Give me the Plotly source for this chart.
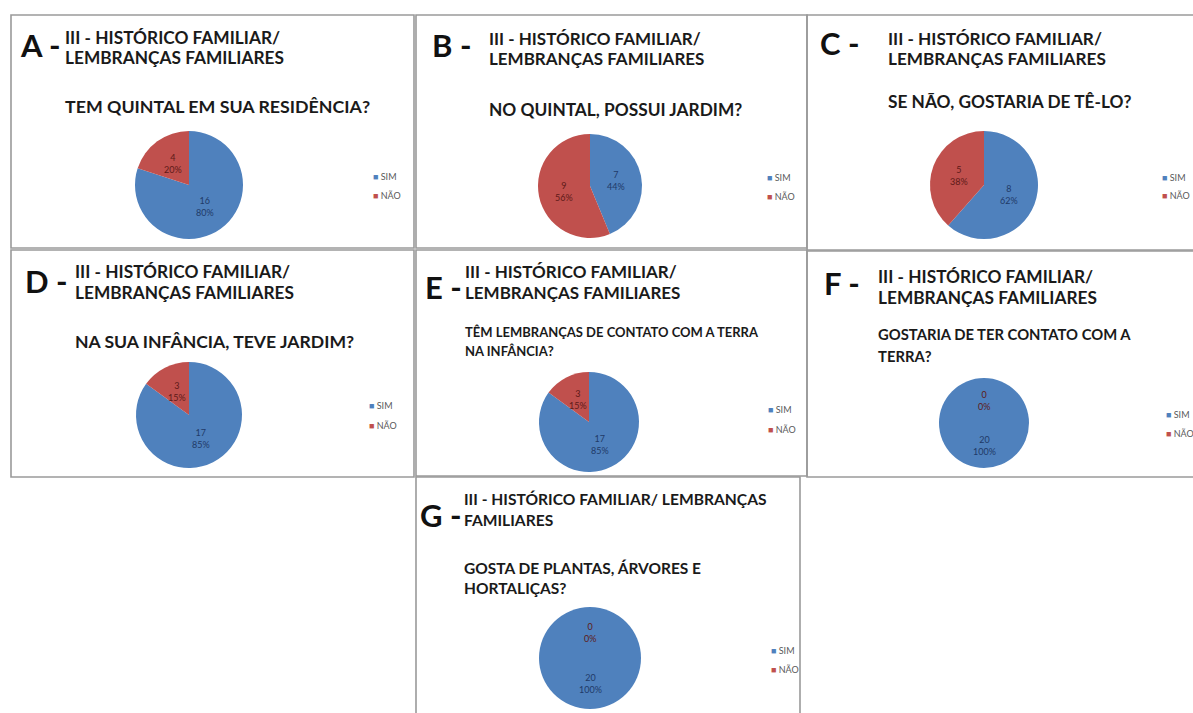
import math
import plotly.graph_objects as go

W, H = 1193, 713

# ---------------- data ----------------
panel_letters = ["A", "B", "C", "D", "E", "F", "G"]
categories = ["SIM", "NÃO"]
sim_values = [16, 7, 8, 17, 17, 20, 20]
nao_values = [4, 9, 5, 3, 3, 0, 0]
title_lines = [
    ["III - HISTÓRICO FAMILIAR/", "LEMBRANÇAS FAMILIARES"],
    ["III - HISTÓRICO FAMILIAR/", "LEMBRANÇAS FAMILIARES"],
    ["III - HISTÓRICO FAMILIAR/", "LEMBRANÇAS FAMILIARES"],
    ["III - HISTÓRICO FAMILIAR/", "LEMBRANÇAS FAMILIARES"],
    ["III - HISTÓRICO FAMILIAR/", "LEMBRANÇAS FAMILIARES"],
    ["III - HISTÓRICO FAMILIAR/", "LEMBRANÇAS FAMILIARES"],
    ["III - HISTÓRICO FAMILIAR/ LEMBRANÇAS", "FAMILIARES"],
]
question_lines = [
    ["TEM QUINTAL EM SUA RESIDÊNCIA?"],
    ["NO QUINTAL, POSSUI JARDIM?"],
    ["SE NÃO, GOSTARIA DE TÊ-LO?"],
    ["NA SUA INFÂNCIA, TEVE JARDIM?"],
    ["TÊM LEMBRANÇAS DE CONTATO COM A TERRA", "NA INFÂNCIA?"],
    ["GOSTARIA DE TER CONTATO COM A", "TERRA?"],
    ["GOSTA DE PLANTAS, ÁRVORES E", "HORTALIÇAS?"],
]

# ---------------- layout (pixels) ----------------
layout_px = [
    dict(box=(11, 15, 414, 248), letter=(18, 45), tx=63, tys=(38, 57), ts=17.3, qys=(106,), qs=17.8, pie=(189, 185, 54), leg=(371, 176, 195)),
    dict(box=(416, 15, 807, 248), letter=(430, 45), tx=487, tys=(39, 59), ts=17.0, qys=(110,), qs=17.3, pie=(590, 186, 52), leg=(765, 177, 196)),
    dict(box=(807, 15, 1200, 250), letter=(818, 43), tx=886, tys=(39, 58), ts=17.2, qys=(102,), qs=17.3, pie=(984, 185, 54), leg=(1160, 177, 195)),
    dict(box=(11, 250, 414, 477), letter=(23, 281), tx=73, tys=(271, 292), ts=17.3, qys=(342,), qs=17.6, pie=(189, 415, 53), leg=(367, 405, 425)),
    dict(box=(416, 250, 807, 476), letter=(423, 287), tx=463, tys=(271, 292), ts=17.0, qys=(332, 351), qs=13.0, pie=(589, 422, 50), leg=(766, 409, 429)),
    dict(box=(807, 251, 1200, 477), letter=(822, 283), tx=876, tys=(276, 297), ts=17.3, qys=(334, 356), qs=14.8, pie=(984, 423, 45), leg=(1164, 414, 433)),
    dict(box=(416, 477, 800, 720), letter=(418, 515), tx=462, tys=(499, 520), ts=15.6, qys=(568, 588), qs=15.5, pie=(590, 658, 51), leg=(769, 650, 669)),
]

BLUE = "#4F81BD"
RED = "#C0504D"
LBL_BLUE = "#1F3A68"
LBL_RED = "#5E1A18"
FONT = "Lato"


def px(x):
    return x / W


def py(y):
    return 1 - y / H


fig = go.Figure()
shapes = []
annotations = []

for i, letter in enumerate(panel_letters):
    L = layout_px[i]
    x0, y0, x1, y1 = L["box"]
    shapes.append(dict(type="rect", xref="paper", yref="paper",
                       x0=px(x0), x1=px(x1), y0=py(y1), y1=py(y0),
                       line=dict(color="#9a9a9a", width=1.6), fillcolor="rgba(0,0,0,0)", layer="below"))

    vals = [sim_values[i], nao_values[i]]
    cx, cy, r = L["pie"]
    fig.add_trace(go.Pie(
        labels=categories,
        values=vals,
        sort=False, direction="clockwise", rotation=0,
        domain=dict(x=[px(cx - r), px(cx + r)], y=[py(cy + r), py(cy - r)]),
        marker=dict(colors=[BLUE, RED], line=dict(width=0)),
        textinfo="none",
        showlegend=False, hoverinfo="label+value+percent",
    ))

    # data labels (Excel style: value + percent at mid-angle of each slice)
    total = sum(vals)
    cum = 0.0
    for v, col in zip(vals, [LBL_BLUE, LBL_RED]):
        frac = v / total
        mid = (cum + frac / 2) * 2 * math.pi
        cum += frac
        lxp = cx + 0.5 * r * math.sin(mid)
        lyp = cy - 0.5 * r * math.cos(mid)
        annotations.append(dict(text=f"{v}<br>{round(frac * 100)}%", x=px(lxp), y=py(lyp),
                                xref="paper", yref="paper", xanchor="center", yanchor="middle",
                                showarrow=False, font=dict(family=FONT, size=9, color=col)))

    # panel letter
    lx, ly = L["letter"]
    annotations.append(dict(text=f"<b>{letter} -</b>", x=px(lx), y=py(ly), xref="paper", yref="paper",
                            xanchor="left", yanchor="middle", showarrow=False,
                            font=dict(family=FONT, size=31, color="#111111")))
    for t, yy in zip(title_lines[i], L["tys"]):
        annotations.append(dict(text=f"<b>{t}</b>", x=px(L["tx"]), y=py(yy), xref="paper", yref="paper",
                                xanchor="left", yanchor="middle", showarrow=False,
                                font=dict(family=FONT, size=L["ts"], color="#1a1a1a")))
    for t, yy in zip(question_lines[i], L["qys"]):
        annotations.append(dict(text=f"<b>{t}</b>", x=px(L["tx"]), y=py(yy), xref="paper", yref="paper",
                                xanchor="left", yanchor="middle", showarrow=False,
                                font=dict(family=FONT, size=L["qs"], color="#1a1a1a")))
    # legend
    gx, g1, g2 = L["leg"]
    for cat, col, yy in zip(categories, [BLUE, RED], [g1, g2]):
        annotations.append(dict(text=f"<span style='color:{col}'>■</span> {cat}", x=px(gx), y=py(yy),
                                xref="paper", yref="paper", xanchor="left", yanchor="middle",
                                showarrow=False, font=dict(family=FONT, size=9, color="#595959")))

fig.update_layout(
    width=W, height=H, autosize=False,
    margin=dict(l=0, r=0, t=0, b=0),
    paper_bgcolor="white", plot_bgcolor="white",
    shapes=shapes, annotations=annotations,
)

fig.write_html("out.html")
